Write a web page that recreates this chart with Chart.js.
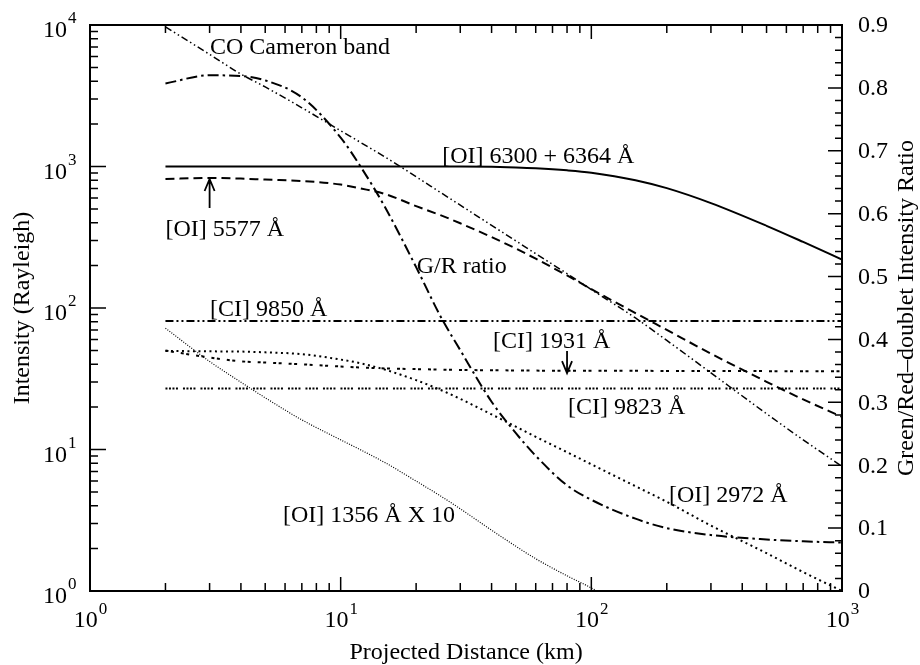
<!DOCTYPE html>
<html>
<head>
    <meta charset="UTF-8">
    <title>Intensity vs Projected Distance</title>
    <script src="https://cdn.jsdelivr.net/npm/chart.js"></script>
    <style>
        html, body { margin: 0; padding: 0; background: #fff; }
        canvas { display: block; }
    </style>
</head>
<body>
<canvas id="chart" width="920" height="665"></canvas>
<script>
    // projected distance (km), shared by every curve
    var distance = [2, 3, 4, 5, 7, 10, 12, 15, 20, 25, 30, 40, 50, 60, 80, 100, 150, 200, 300, 500, 700, 1000];

    // intensities (Rayleigh)
    var oi6300 = [1000, 1000, 1000, 1000, 1000, 1000, 1000, 1000, 1000, 1000, 1000, 995, 985, 972, 940, 904, 800, 703, 551, 381, 293, 220];
    var oi5577 = [815, 830, 822, 808, 790, 745, 700, 640, 525, 453, 397, 317, 263, 223, 170, 136, 92, 70, 47.6, 30.1, 22.6, 17];
    var coCameron = [9700, 6200, 4500, 3650, 2600, 1790, 1480, 1170, 847, 656, 533, 384, 298, 242, 175, 135, 85, 59, 34.8, 17.9, 11.7, 7.6];
    var ci9850 = [81, 81, 81, 81, 81, 81, 81, 81, 81, 81, 81, 81, 81, 81, 81, 81, 81, 81, 81, 81, 81, 81];
    var ci1931 = [50, 44.7, 42, 41.2, 40, 38.6, 38, 37.4, 37, 36.7, 36.5, 36.3, 36.2, 36.1, 36, 36, 36, 35.9, 35.9, 35.8, 35.8, 35.8];
    var ci9823 = [27, 27, 27, 27, 27, 27, 27, 27, 27, 27, 27, 27, 27, 27, 27, 27, 27, 27, 27, 27, 27, 27];
    var oi2972 = [49.7, 49.4, 49.2, 48.6, 47.2, 43.2, 40.7, 36.7, 30.9, 26.4, 22.8, 17.7, 14.5, 12.3, 9.57, 7.86, 5.5, 4.27, 2.9, 1.85, 1.36, 1.0];
    var oi1356x10 = [72, 41.9, 29.9, 23.2, 16.2, 11.7, 9.95, 8.09, 5.98, 4.7, 3.81, 2.69, 2.07, 1.69, 1.28, 1.05, 0.68, null, null, null, null, null];

    // green/red-doublet intensity ratio (right axis)
    var grRatio = [0.807, 0.820, 0.819, 0.812, 0.785, 0.721, 0.675, 0.611, 0.515, 0.437, 0.383, 0.301, 0.251, 0.215, 0.168, 0.145, 0.115, 0.100, 0.089, 0.082, 0.079, 0.077];

    // axis ticks
    var decadeExponents = ['0', '1', '2', '3', '4'];
    var ratioTicks = ['0', '0.1', '0.2', '0.3', '0.4', '0.5', '0.6', '0.7', '0.8', '0.9'];

    var SERIF = "'Liberation Serif', 'Times New Roman', serif";

    function pts(values) {
        return distance.map(function (d, i) { return { x: d, y: values[i] }; });
    }

    function line(label, values, dash, width, axis) {
        return {
            label: label,
            data: pts(values),
            borderColor: '#000',
            borderWidth: width,
            borderDash: dash,
            pointRadius: 0,
            fill: false,
            cubicInterpolationMode: 'monotone',
            yAxisID: axis || 'y'
        };
    }

    function arrow(ctx, x, y0, y1) {
        var dir = y1 > y0 ? -1 : 1;
        ctx.beginPath();
        ctx.moveTo(x, y0);
        ctx.lineTo(x, y1);
        ctx.moveTo(x - 5, y1 + dir * 12);
        ctx.lineTo(x, y1);
        ctx.lineTo(x + 5, y1 + dir * 12);
        ctx.stroke();
    }

    // frame, inward ticks, power-of-ten labels, titles and curve labels
    var decor = {
        id: 'decor',
        afterDraw: function (chart) {
            var ctx = chart.ctx, a = chart.chartArea;
            var x = chart.scales.x, y = chart.scales.y, y2 = chart.scales.y2;
            ctx.save();
            ctx.strokeStyle = '#000';
            ctx.fillStyle = '#000';
            ctx.lineWidth = 2;
            ctx.strokeRect(a.left, a.top, a.right - a.left, a.bottom - a.top);

            ctx.lineWidth = 1.5;
            ctx.beginPath();
            [1, 10, 100].forEach(function (d) {
                for (var m = 1; m <= 9; m++) {
                    var px = x.getPixelForValue(d * m);
                    var len = m === 1 ? 14 : 8;
                    ctx.moveTo(px, a.bottom); ctx.lineTo(px, a.bottom - len);
                    ctx.moveTo(px, a.top); ctx.lineTo(px, a.top + len);
                }
            });
            [1, 10, 100, 1000].forEach(function (d) {
                for (var m = 1; m <= 9; m++) {
                    var py = y.getPixelForValue(d * m);
                    var len = m === 1 ? 16 : 8;
                    ctx.moveTo(a.left, py); ctx.lineTo(a.left + len, py);
                }
            });
            for (var i = 0; i <= 45; i++) {
                var py2 = y2.getPixelForValue(i * 0.02);
                var len2 = i % 5 === 0 ? 14 : 7;
                ctx.moveTo(a.right, py2); ctx.lineTo(a.right - len2, py2);
            }
            ctx.stroke();

            // x tick labels 10^n
            ctx.textAlign = 'left';
            ctx.textBaseline = 'alphabetic';
            decadeExponents.slice(0, 4).forEach(function (e) {
                var px = x.getPixelForValue(Math.pow(10, +e));
                ctx.font = '24px ' + SERIF;
                var w10 = ctx.measureText('10').width;
                ctx.font = '17px ' + SERIF;
                var we = ctx.measureText(e).width;
                var start = px - (w10 + we) / 2;
                ctx.font = '24px ' + SERIF;
                ctx.fillText('10', start, a.bottom + 36);
                ctx.font = '17px ' + SERIF;
                ctx.fillText(e, start + w10 + 1, a.bottom + 23);
            });

            // left tick labels 10^n
            decadeExponents.forEach(function (e) {
                var py = y.getPixelForValue(Math.pow(10, +e));
                ctx.font = '24px ' + SERIF;
                ctx.textAlign = 'right';
                ctx.fillText('10', a.left - 23, py + 12);
                ctx.font = '17px ' + SERIF;
                ctx.textAlign = 'left';
                ctx.fillText(e, a.left - 22, py - 2);
            });

            // right tick labels
            ctx.font = '24px ' + SERIF;
            ctx.textAlign = 'left';
            ctx.textBaseline = 'middle';
            ratioTicks.forEach(function (t) {
                ctx.fillText(t, a.right + 16, y2.getPixelForValue(+t) + 1);
            });

            // axis titles
            ctx.textBaseline = 'alphabetic';
            ctx.textAlign = 'center';
            ctx.fillText('Projected Distance (km)', (a.left + a.right) / 2, 659);
            ctx.save();
            ctx.translate(29, (a.top + a.bottom) / 2);
            ctx.rotate(-Math.PI / 2);
            ctx.fillText('Intensity (Rayleigh)', 0, 0);
            ctx.restore();
            ctx.save();
            ctx.translate(913, (a.top + a.bottom) / 2);
            ctx.rotate(-Math.PI / 2);
            ctx.fillText('Green/Red\u2013doublet Intensity Ratio', 0, 0);
            ctx.restore();

            // curve labels, anchored in data coordinates
            ctx.textAlign = 'left';
            [
                ['CO Cameron band', 3.01, 6240],
                ['[OI] 6300 + 6364 \u00c5', 25.4, 1059],
                ['[OI] 5577 \u00c5', 2.0, 323],
                ['G/R ratio', 20.1, 177],
                ['[CI] 9850 \u00c5', 3.01, 87.8],
                ['[CI] 1931 \u00c5', 40.5, 52.2],
                ['[CI] 9823 \u00c5', 80.7, 17.8],
                ['[OI] 2972 \u00c5', 204, 4.26],
                ['[OI] 1356 \u00c5 X 10', 5.89, 3.07]
            ].forEach(function (l) {
                ctx.fillText(l[0], x.getPixelForValue(l[1]), y.getPixelForValue(l[2]));
            });

            ctx.lineWidth = 1.8;
            arrow(ctx, x.getPixelForValue(3), y.getPixelForValue(509), y.getPixelForValue(816));
            arrow(ctx, x.getPixelForValue(80), y.getPixelForValue(49.7), y.getPixelForValue(34.7));
            ctx.restore();
        }
    };

    var ctx = document.getElementById('chart').getContext('2d');
    var chart = new Chart(ctx, {
        type: 'line',
        data: {
            datasets: [
                line('[OI] 6300 + 6364 Å', oi6300, [], 2),
                line('[OI] 5577 Å', oi5577, [9, 5], 2),
                line('CO Cameron band', coCameron, [7, 3, 1.5, 3, 1.5, 3], 1.5),
                line('[CI] 9850 Å', ci9850, [8, 3, 2, 3, 2, 3], 2),
                line('[CI] 1931 Å', ci1931, [3, 2.5, 3, 7], 2),
                line('[CI] 9823 Å', ci9823, [2, 1.5, 2, 1.5, 2, 1.5, 2, 5], 2),
                line('[OI] 2972 Å', oi2972, [2, 3.5], 2),
                line('[OI] 1356 Å X 10', oi1356x10, [1, 1.5], 1.2),
                line('G/R ratio', grRatio, [11, 4, 2.5, 4], 2, 'y2')
            ]
        },
        options: {
            responsive: false,
            animation: false,
            devicePixelRatio: 1,
            layout: { padding: { top: 25, left: 0, right: 0, bottom: 0 } },
            plugins: {
                legend: { display: false },
                tooltip: { enabled: false }
            },
            scales: {
                x: {
                    type: 'logarithmic', min: 1, max: 1000,
                    ticks: { display: false }, grid: { display: false }, border: { display: false },
                    afterFit: function (s) { s.height = 74; }
                },
                y: {
                    type: 'logarithmic', position: 'left', min: 1, max: 10000,
                    ticks: { display: false }, grid: { display: false }, border: { display: false },
                    afterFit: function (s) { s.width = 90; }
                },
                y2: {
                    type: 'linear', position: 'right', min: 0, max: 0.9,
                    ticks: { display: false }, grid: { display: false }, border: { display: false },
                    afterFit: function (s) { s.width = 78; }
                }
            }
        },
        plugins: [decor]
    });
</script>
</body>
</html>
